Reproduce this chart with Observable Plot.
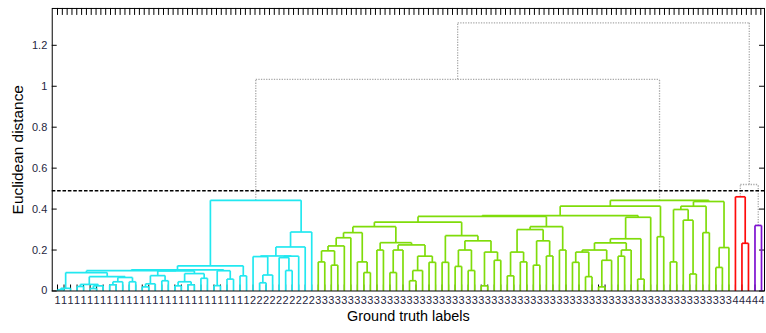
<!DOCTYPE html>
<html>
<head>
<meta charset="utf-8">
<script src="https://cdn.jsdelivr.net/npm/d3@7"></script>
<script src="https://cdn.jsdelivr.net/npm/@observablehq/plot@0.6"></script>
<style>
  html, body { margin: 0; padding: 0; background: #fff; overflow: hidden; }
  svg { font-family: "Liberation Sans", Arial, sans-serif; }
</style>
</head>
<body>
<div id="chart"></div>
<script>
// ---- data: dendrogram nodes are [height, left, right]; a leaf is its ground-truth label ----
const threshold = 0.49;
const yTicks = [0, 0.2, 0.4, 0.6, 0.8, 1, 1.2];
// top-edge ticks: denser than the leaves (step in leaf units)
const topTickStep = 0.739;
const topTickCount = 147;

const tree1 = [0.123,
  [0.103,
    [0.099,
      [0.09,
        [0.013, [0.006, 1, 1], 1],
        [0.07,
          [0.032, [0.022, 1, 1], [0.025, [0.012, 1, 1], 1]],
          [0.066, [0.045, [0.03, 1, 1], 1], [0.045, 1, 1]]]],
      [0.098,
        [0.075, [0.035, [0.02, 1, 1], 1], [0.05, 1, 1]],
        [0.085, [0.045, [0.025, 1, 1], [0.03, 1, 1]], [0.062, 1, 1]]]],
    [0.099, [0.026, 1, 1], [0.058, 1, 1]]],
  [0.074, 1, 1]];

const tree2 = [0.288,
  [0.215,
    [0.171,
      [0.168, 2, [0.078, [0.04, 2, 2], 2]],
      [0.17, [0.163, 2, [0.1, 2, 2]], 2]],
    2],
  2];

const tree3 = [0.443,
  [0.414,
    [0.368,
      [0.364,
        [0.336,
          [0.314,
            [0.285,
              [0.26, [0.22, [0.196, [0.142, 3, 3], [0.126, 3, 3]], 3], 3],
              [0.142, 3, [0.09, 3, 3]]],
            [0.236,
              [0.2, 3, 3],
              [0.225, [0.2, [0.09, 3, 3], 3], [0.17, [0.1, [0.05, 3, 3], 3], [0.14, 3, 3]]]]],
          [0.27,
            [0.14, 3, 3],
            [0.245, [0.2, [0.12, 3, 3], [0.1, 3, 3]], [0.19, [0.025, 3, 3], [0.15, 3, 3]]]]],
        [0.314,
          [0.3, [0.19, [0.074, 3, 3], [0.142, 3, 3]], [0.245, [0.126, 3, 3], [0.171, 3, 3]]],
          [0.2, 3, 3]]],
      [0.36,
        [0.255,
          [0.235, [0.2, [0.19, [0.14, 3, 3], [0.07, 3, 3]], [0.15, [0.02, 3, 3], 3]], [0.2, [0.17, 3, 3], 3]],
          [0.058, 3, 3]],
        3]],
    [0.265, 3, 3]],
  [0.437,
    [0.414, [0.398, [0.142, 3, 3], [0.346, 3, [0.083, 3, 3]]], [0.285, 3, 3]],
    [0.212, [0.115, 3, 3], 3]]];

const treeRed = [0.46, 4, [0.233, 4, 4]];
const treePurple = [0.32, 4, 4];

// merges above the cut (heights)
const cyanTop = 0.443;
const mergeCyanGreen = 1.034;
const mergeRedPurple = 0.52;
const rootHeight = 1.31;

const clusterColors = { cyan: "#22e8f0", green: "#7fdc0a", red: "#ff0a0a", purple: "#7d10d0" };

// ---- layout ----
const clusters = {
  cyan: { color: clusterColors.cyan, tree: [cyanTop, tree1, tree2] },
  green: { color: clusterColors.green, tree: tree3 },
  red: { color: clusterColors.red, tree: treeRed },
  purple: { color: clusterColors.purple, tree: treePurple }
};
const root = [rootHeight,
  [mergeCyanGreen, clusters.cyan, clusters.green],
  [mergeRedPurple, clusters.red, clusters.purple]];

const leaves = [];
const segs = [];
let idx = 0;
function layout(node, color) {
  if (typeof node === "number") {
    const leaf = { x: idx++, h: 0, label: String(node) };
    leaves.push(leaf);
    return leaf;
  }
  if (!Array.isArray(node)) return layout(node.tree, node.color);
  const [h, L, R] = node;
  const l = layout(L, color), r = layout(R, color);
  const gray = h >= threshold;
  const c = gray ? "gray" : color;
  segs.push({ x1: l.x, y1: l.h, x2: l.x, y2: h, c, gray });
  segs.push({ x1: l.x, y1: h, x2: r.x, y2: h, c, gray });
  segs.push({ x1: r.x, y1: r.h, x2: r.x, y2: h, c, gray });
  return { x: (l.x + r.x) / 2, h };
}
layout(root, "gray");
const N = leaves.length;
const topTicks = d3.range(topTickCount).map(k => k * topTickStep);

const W = 770, H = 333, mL = 52, mR = 2, mT = 8, mB = 41;
const pw = W - mL - mR, ph = H - mT - mB;
const textColor = "#262640";

const chart = Plot.plot({
  width: W, height: H,
  marginLeft: mL, marginRight: mR, marginTop: mT, marginBottom: mB,
  x: { domain: [-0.81, N - 1 + 0.46], axis: null },
  y: { domain: [0, 1.38], axis: null },
  marks: [
    Plot.tickX(leaves, { x: "x", insetTop: ph - 6, stroke: "black", strokeWidth: 1 }),
    Plot.tickX(topTicks, { x: d => d, insetBottom: ph - 7, stroke: "black", strokeWidth: 1 }),
    Plot.tickY(yTicks, { y: d => d, insetRight: pw - 5, stroke: "black" }),
    Plot.tickY(yTicks, { y: d => d, insetLeft: pw - 5, stroke: "black" }),
    Plot.link(segs.filter(d => d.gray), { x1: "x1", y1: "y1", x2: "x2", y2: "y2", stroke: "#a9a9a9", strokeWidth: 1.3, strokeDasharray: "1.3,1.3" }),
    Plot.ruleY([threshold], { stroke: "black", strokeWidth: 1.5, strokeDasharray: "3.6,1.8" }),
    Plot.link(segs.filter(d => !d.gray), { x1: "x1", y1: "y1", x2: "x2", y2: "y2", stroke: "c", strokeWidth: 1.7 }),
    Plot.frame({ stroke: "black", strokeWidth: 1 }),
    Plot.text(yTicks, { x: -0.81, y: d => d, text: d => String(d), textAnchor: "end", dx: -5, fontSize: 11, fill: textColor }),
    Plot.text(leaves, { x: "x", y: 0, text: "label", dy: 10, fontSize: 11, fill: textColor }),
    Plot.text(["Ground truth labels"], { frameAnchor: "bottom", textAnchor: "middle", dy: 30, fontSize: 14.5, fill: "black" }),
    Plot.text(["Euclidean distance"], { frameAnchor: "left", textAnchor: "middle", rotate: -90, dx: -34, fontSize: 15.5, fill: "black" })
  ]
});
document.getElementById("chart").appendChild(chart);
</script>
</body>
</html>
